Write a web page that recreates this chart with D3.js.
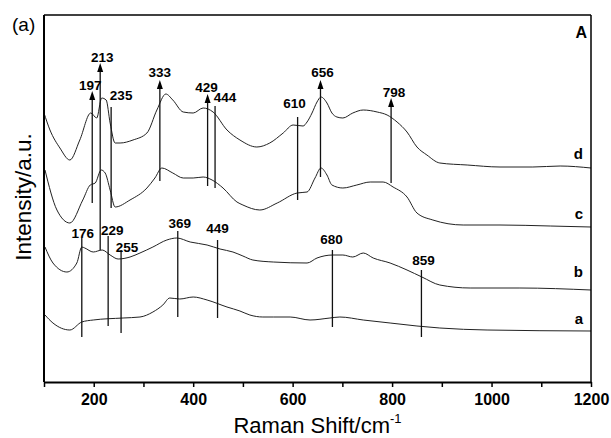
<!DOCTYPE html>
<html>
<head>
<meta charset="utf-8">
<script src="https://cdn.jsdelivr.net/npm/d3@7"></script>
<style>
  body { margin: 0; background: #fff; }
  text { font-family: "Liberation Sans", Arial, sans-serif; }
</style>
</head>
<body>
<svg id="chart" width="611" height="438"></svg>
<script>
// spectra: [Raman shift, intensity (a.u., stacked)]
const specD = [[100,269],[112,252],[132,234],[152,222],[172,242],[194,269],[206,264],[216,284],[225,282],[233,259],[243,239],[253,239],[279,242],[307,249],[327,272],[345,288],[359,282],[380,270],[400,269],[420,274],[440,270],[468,252],[494,242],[528,235],[554,239],[581,249],[601,257],[621,256],[629,260],[639,269],[649,280],[657,285],[669,279],[679,269],[689,265],[701,264],[721,269],[742,272],[770,270],[790,267],[810,260],[830,250],[850,235],[870,227],[896,219],[951,217],[1017,215],[1083,215],[1138,216],[1200,214]];
const specC = [[102,212],[126,172],[152,159],[178,182],[193,197],[203,199],[215,212],[223,209],[233,192],[243,175],[273,182],[307,194],[323,204],[337,214],[359,209],[380,204],[400,204],[420,205],[438,202],[460,194],[488,180],[500,177],[534,172],[569,179],[609,189],[629,190],[645,204],[657,214],[669,207],[679,197],[701,194],[729,197],[756,200],[782,200],[802,195],[830,185],[850,169],[882,162],[943,157],[1017,157],[1118,156],[1200,155]];
const specB = [[102,135],[118,119],[146,110],[166,119],[176,135],[182,134],[199,130],[217,132],[233,127],[249,123],[273,125],[293,129],[319,135],[347,142],[367,144],[394,140],[428,137],[454,133],[480,130],[500,126],[520,122],[561,120],[629,119],[649,124],[681,127],[701,127],[721,125],[742,129],[762,124],[796,119],[830,112],[860,105],[896,97],[957,94],[1057,94],[1200,92]];
const specA = [[102,67],[118,59],[152,52],[176,60],[199,62],[259,64],[293,65],[319,70],[339,77],[353,84],[373,83],[400,85],[428,82],[468,75],[494,71],[514,67],[540,65],[561,65],[595,65],[635,62],[675,64],[695,65],[742,62],[796,59],[850,56],[896,54],[991,52],[1200,51]];
const seriesNames = ["d", "c", "b", "a"];

// band markers with arrows (upper spectra)
const arrowPeaks = [197, 213, 333, 429, 656, 798];
const arrowTop = [291, 319, 302, 288, 302, 284];
const arrowBottom = [179, 132, 201, 196, 205, 199];
// plain band markers
const linePeaks = [235, 444, 610, 176, 229, 255, 369, 449, 680, 859];
const lineTop = [275, 276, 265, 144, 146, 132, 151, 142, 132, 112];
const lineBottom = [174, 194, 182, 45, 56, 49, 65, 64, 55, 45];

const xTicks = d3.range(100, 1201, 100);

// label nudges (px): [dx, gap above top]
const nudge = {197:[-2,1],213:[2,1],333:[0,3],429:[-1,2],656:[2,3],798:[3,1],
  235:[10,7],444:[10,4],610:[-3,9],176:[1,0],229:[4,1],255:[6,-2],369:[2,3],449:[0,7],680:[-1,6],859:[2,5]};
const nameGap = [9, 8, 13, 7];

const margin = {top: 15, right: 20, bottom: 56, left: 44};
const width = 611 - margin.left - margin.right;
const height = 438 - margin.top - margin.bottom;

const svg = d3.select('#chart');
const g = svg.append('g').attr('transform', `translate(${margin.left},${margin.top})`);

const x = d3.scaleLinear().domain([100, 1200]).range([0, width]);
const y = d3.scaleLinear().domain([0, 367]).range([height, 0]);

const line = d3.line()
  .x(d => x(d[0]))
  .y(d => y(d[1]))
  .curve(d3.curveMonotoneX);

const spectra = [specD, specC, specB, specA];
g.selectAll('path.spec').data(spectra).enter().append('path')
  .attr('class', 'spec')
  .attr('d', line)
  .attr('fill', 'none')
  .attr('stroke', '#222')
  .attr('stroke-width', 1);

g.selectAll('text.name').data(spectra).enter().append('text')
  .attr('class', 'name')
  .attr('x', x(1200) - 8)
  .attr('y', (d, i) => y(d[d.length - 1][1]) - nameGap[i])
  .attr('text-anchor', 'end')
  .attr('font-size', 15)
  .attr('font-weight', 'bold')
  .text((d, i) => seriesNames[i]);

const arrows = arrowPeaks.map((p, i) => ({p: p, top: arrowTop[i], bottom: arrowBottom[i], arrow: true}));
const plain = linePeaks.map((p, i) => ({p: p, top: lineTop[i], bottom: lineBottom[i], arrow: false}));
const bands = arrows.concat(plain);

g.selectAll('line.band').data(bands).enter().append('line')
  .attr('class', 'band')
  .attr('x1', d => x(d.p)).attr('x2', d => x(d.p))
  .attr('y1', d => y(d.bottom))
  .attr('y2', d => y(d.top) + (d.arrow ? 8 : 0))
  .attr('stroke', '#111')
  .attr('stroke-width', 1.3);

g.selectAll('path.head').data(arrows).enter().append('path')
  .attr('class', 'head')
  .attr('d', d => `M${x(d.p) - 3},${y(d.top) + 9} L${x(d.p)},${y(d.top)} L${x(d.p) + 3},${y(d.top) + 9} Z`)
  .attr('fill', '#000');

g.selectAll('text.band').data(bands).enter().append('text')
  .attr('class', 'band')
  .attr('x', d => x(d.p) + nudge[d.p][0])
  .attr('y', d => y(d.top) - nudge[d.p][1])
  .attr('text-anchor', 'middle')
  .attr('font-size', 13.5)
  .attr('font-weight', 'bold')
  .text(d => d.p);

// axes and frame
const xAxis = d3.axisBottom(x)
  .tickValues(xTicks)
  .tickFormat(d => d % 200 === 0 ? d : '')
  .tickSize(5)
  .tickSizeOuter(0);

const ax = g.append('g')
  .attr('transform', `translate(0,${height})`)
  .call(xAxis);
ax.attr('font-size', 16)
  .attr('font-weight', 'bold')
  .attr('font-family', '"Liberation Sans", Arial, sans-serif');
ax.select('.domain').attr('stroke-width', 1.8);
ax.selectAll('.tick line').attr('stroke-width', 1.5);
ax.selectAll('.tick text')
  .attr('dy', '0')
  .attr('y', 23);

g.append('line').attr('x1', 0).attr('x2', 0).attr('y1', 0).attr('y2', height)
  .attr('stroke', '#000').attr('stroke-width', 2);
g.append('line').attr('x1', 0).attr('x2', width).attr('y1', 0).attr('y2', 0)
  .attr('stroke', '#000').attr('stroke-width', 1.5);
g.append('line').attr('x1', width).attr('x2', width).attr('y1', 0).attr('y2', height)
  .attr('stroke', '#000').attr('stroke-width', 1.5);

// titles
const xt = svg.append('text')
  .attr('x', margin.left + width / 2)
  .attr('y', 433)
  .attr('text-anchor', 'middle')
  .attr('font-size', 22);
xt.append('tspan').text('Raman Shift/cm');
xt.append('tspan').attr('dy', -10).attr('font-size', 13).text('-1');

svg.append('text')
  .attr('transform', 'translate(31,197) rotate(-90)')
  .attr('text-anchor', 'middle')
  .attr('font-size', 22.5)
  .text('Intensity/a.u.');

svg.append('text')
  .attr('x', 12).attr('y', 31)
  .attr('font-size', 19)
  .text('(a)');

svg.append('text')
  .attr('x', margin.left + width - 4).attr('y', 38)
  .attr('text-anchor', 'end')
  .attr('font-size', 16)
  .attr('font-weight', 'bold')
  .text('A');
</script>
</body>
</html>
